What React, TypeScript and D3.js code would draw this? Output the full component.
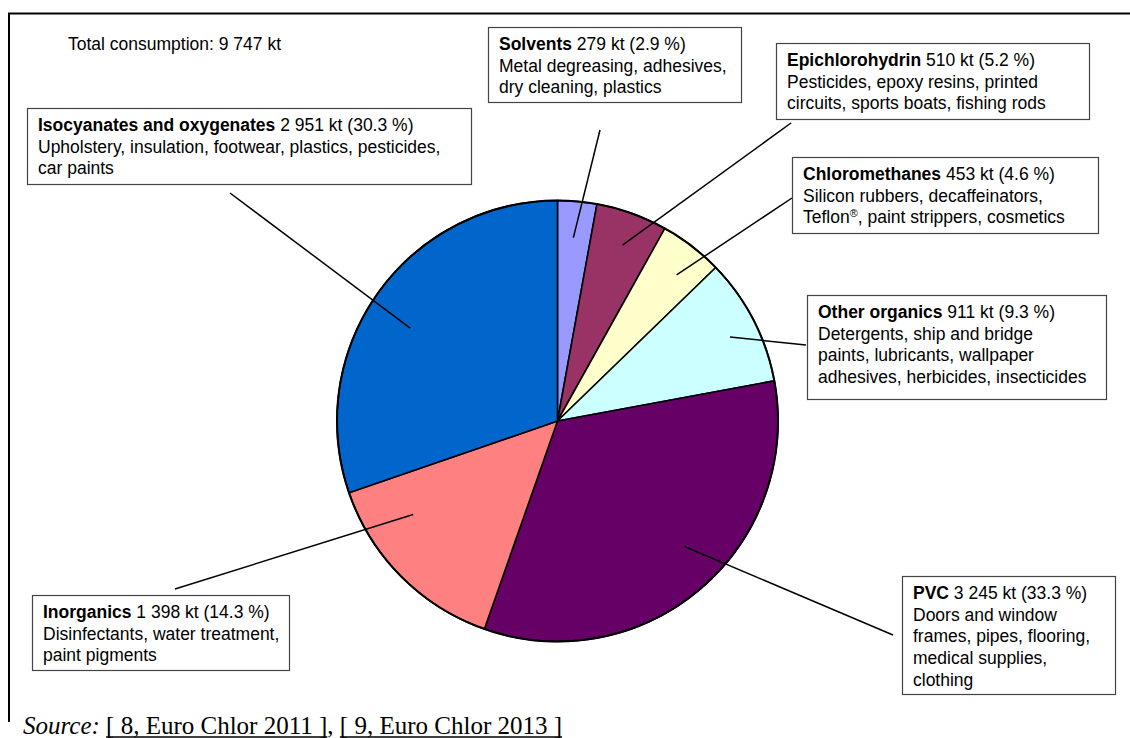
import React, { useLayoutEffect, useRef, useState } from 'react';
import * as d3 from 'd3';

const categories = ['Solvents', 'Epichlorohydrin', 'Chloromethanes', 'Other organics', 'PVC', 'Inorganics', 'Isocyanates and oxygenates'];
const values = [279, 510, 453, 911, 3245, 1398, 2951];
const valueLabels = ['279 kt (2.9 %)', '510 kt (5.2 %)', '453 kt (4.6 %)', '911 kt (9.3 %)', '3 245 kt (33.3 %)', '1 398 kt (14.3 %)', '2 951 kt (30.3 %)'];
const uses = [
  ['Metal degreasing, adhesives,', 'dry cleaning, plastics'],
  ['Pesticides, epoxy resins, printed', 'circuits, sports boats, fishing rods'],
  ['Silicon rubbers, decaffeinators,', 'Teflon®, paint strippers, cosmetics'],
  ['Detergents, ship and bridge', 'paints, lubricants, wallpaper', 'adhesives, herbicides, insecticides'],
  ['Doors and window', 'frames, pipes, flooring,', 'medical supplies,', 'clothing'],
  ['Disinfectants, water treatment,', 'paint pigments'],
  ['Upholstery, insulation, footwear, plastics, pesticides,', 'car paints'],
];
const colors = ['#9999FF', '#993366', '#FFFFCC', '#CCFFFF', '#660066', '#FF8080', '#0066CC'];
const totalLabel = 'Total consumption: 9 747 kt';
const sourceParts = ['Source:', '[ 8, Euro Chlor 2011 ]', '[ 9, Euro Chlor 2013 ]'];

// layout: label boxes, leader outer end points, leader anchor (fraction across slice, fraction of radius)
const boxes = [
  { x: 488, y: 27, w: 253, h: 75, lx: 600, ly: 130, t: 0.48, r: 0.835 },
  { x: 776, y: 43, w: 313, h: 76, lx: 791, ly: 123, t: 0.53, r: 0.85 },
  { x: 792, y: 157, w: 306, h: 76, lx: 792, ly: 198, t: 0.6, r: 0.855 },
  { x: 807, y: 295, w: 299, h: 104, lx: 806, ly: 345, t: 0.54, r: 0.87 },
  { x: 902, y: 576, w: 213, h: 118, lx: 893, ly: 635, t: 0.46, r: 0.81 },
  { x: 32, y: 595, w: 257, h: 75, lx: 175, ly: 589, t: 0.73, r: 0.78 },
  { x: 27, y: 108, w: 444, h: 76, lx: 230, ly: 193, t: 0.47, r: 0.79 },
];

const W = 1130, H = 738;
const cx = 557.5, cy = 421, R = 220.5;
const FS = 17.5;
const LH = 21.7;
const FONT = 'Arial, "Liberation Sans", sans-serif';
const SERIF = '"Times New Roman", "Liberation Serif", serif';

export default function App() {
  const pie = d3.pie<number>().sort(null).startAngle(0).endAngle(2 * Math.PI);
  const arcs = pie(values);
  const arc = d3.arc<d3.PieArcDatum<number>>().innerRadius(0).outerRadius(R);

  const ref1 = useRef<SVGTSpanElement>(null);
  const ref2 = useRef<SVGTSpanElement>(null);
  const [ul, setUl] = useState<{ x: number; w: number }[]>([]);
  useLayoutEffect(() => {
    const out: { x: number; w: number }[] = [];
    [ref1.current, ref2.current].forEach((el) => {
      if (el) {
        const b = (el as any).getBBox();
        out.push({ x: b.x, w: b.width });
      }
    });
    setUl(out);
  }, []);

  const renderLine = (line: string, i: number, bx: number, by: number) => {
    const y = by + 23 + (i + 1) * LH;
    if (line.includes('®')) {
      const [a, b] = line.split('®');
      return (
        <text key={i} x={bx + 11} y={y} fontSize={FS} fontFamily={FONT}>
          {a}
          <tspan fontSize={FS * 0.62} dy={-6}>®</tspan>
          <tspan dy={6}>{b}</tspan>
        </text>
      );
    }
    return (
      <text key={i} x={bx + 11} y={y} fontSize={FS} fontFamily={FONT}>{line}</text>
    );
  };

  return (
    <svg width={W} height={H} style={{ position: 'absolute', left: 0, top: 0, background: '#fff' }}>
      <rect x={0} y={0} width={W} height={H} fill="#fff" />
      {/* frame */}
      <line x1={8} y1={13.5} x2={W} y2={13.5} stroke="#000" strokeWidth={2} />
      <line x1={9} y1={13} x2={9} y2={722} stroke="#000" strokeWidth={2} />

      <text x={68} y={50} fontSize={FS} fontFamily={FONT}>{totalLabel}</text>

      {/* pie */}
      <g transform={`translate(${cx},${cy})`}>
        {arcs.map((a, i) => (
          <path key={i} d={arc(a) || ''} fill={colors[i]} stroke="#000" strokeWidth={1.6} strokeLinejoin="round" />
        ))}
        <circle r={R} fill="none" stroke="#000" strokeWidth={2} />
      </g>

      {/* leaders */}
      {arcs.map((a, i) => {
        const b = boxes[i];
        const ang = a.startAngle + (a.endAngle - a.startAngle) * b.t;
        const rr = R * b.r;
        const px = cx + rr * Math.sin(ang);
        const py = cy - rr * Math.cos(ang);
        return <line key={i} x1={px} y1={py} x2={b.lx} y2={b.ly} stroke="#000" strokeWidth={1.5} />;
      })}

      {/* label boxes */}
      {categories.map((c, i) => {
        const b = boxes[i];
        return (
          <g key={c}>
            <rect x={b.x + 0.5} y={b.y + 0.5} width={b.w} height={b.h} fill="#fff" stroke="#444" strokeWidth={1.2} />
            <text x={b.x + 11} y={b.y + 23} fontSize={FS} fontFamily={FONT}>
              <tspan fontWeight="bold">{c}</tspan>
              <tspan>{' ' + valueLabels[i]}</tspan>
            </text>
            {uses[i].map((l, j) => renderLine(l, j, b.x, b.y))}
          </g>
        );
      })}

      {/* source */}
      <text x={23} y={734} fontFamily={SERIF} fontSize={25}>
        <tspan fontStyle="italic">{sourceParts[0]}</tspan>
        <tspan>{' '}</tspan>
        <tspan ref={ref1}>{sourceParts[1]}</tspan>
        <tspan>{', '}</tspan>
        <tspan ref={ref2}>{sourceParts[2]}</tspan>
      </text>
      {ul.map((u, i) => (
        <line key={i} x1={u.x} x2={u.x + u.w} y1={737} y2={737} stroke="#000" strokeWidth={1.3} />
      ))}
    </svg>
  );
}
